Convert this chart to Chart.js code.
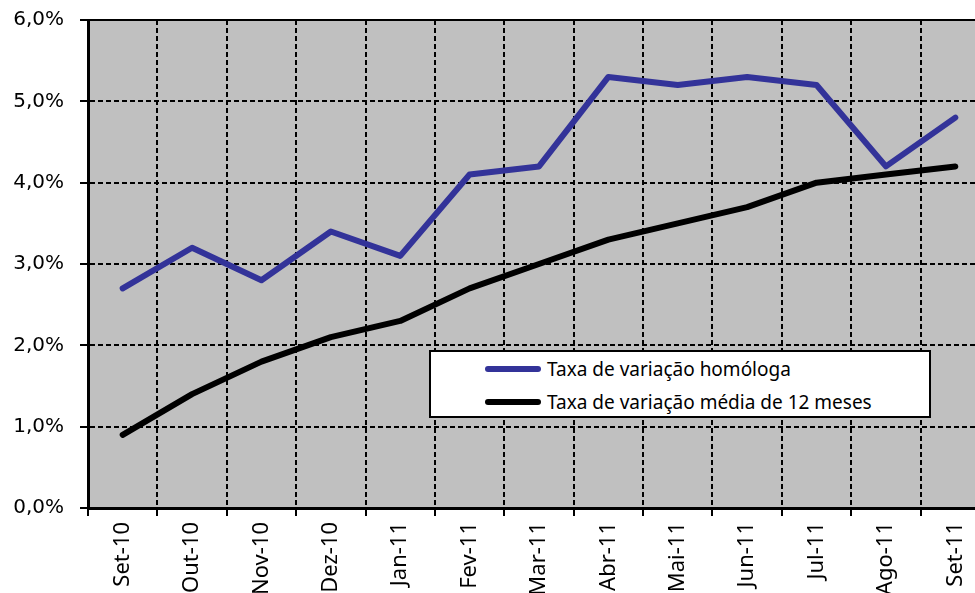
<!DOCTYPE html>
<html lang="pt">
<head>
<meta charset="UTF-8">
<title>Taxa de variação</title>
<script src="https://cdn.jsdelivr.net/npm/chart.js"></script>
<style>
  html, body { margin: 0; padding: 0; background: #fff; overflow: hidden; }
  #wrap { position: relative; width: 990px; height: 593px; }
  #legend {
    position: absolute; left: 429px; top: 350px; width: 498px; height: 64px;
    background: #fff; border: 2px solid #000;
    font-family: "Noto Sans", "DejaVu Sans", sans-serif; font-size: 19px; color: #000;
  }
  .item { position: absolute; left: 54px; display: flex; align-items: center; }
  .swatch { width: 56px; height: 6px; border-radius: 3px; margin-right: 6px; }
</style>
</head>
<body>
<div id="wrap">
  <canvas id="chart" width="990" height="593"></canvas>
  <div id="legend"></div>
</div>
<script>
const months = ['Set-10','Out-10','Nov-10','Dez-10','Jan-11','Fev-11','Mar-11','Abr-11','Mai-11','Jun-11','Jul-11','Ago-11','Set-11'];
const homologa = [2.7, 3.2, 2.8, 3.4, 3.1, 4.1, 4.2, 5.3, 5.2, 5.3, 5.2, 4.2, 4.8];
const media12 = [0.9, 1.4, 1.8, 2.1, 2.3, 2.7, 3.0, 3.3, 3.5, 3.7, 4.0, 4.1, 4.2];
const seriesNames = ['Taxa de variação homóloga', 'Taxa de variação média de 12 meses'];
const seriesColors = ['#333399', '#000000'];

// grey plot background + solid top border
const plotBg = {
  id: 'plotBg',
  beforeDraw(chart) {
    const a = chart.chartArea, ctx = chart.ctx;
    ctx.save();
    ctx.fillStyle = '#C0C0C0';
    ctx.fillRect(a.left, a.top, a.right - a.left, a.bottom - a.top);
    ctx.restore();
  },
  beforeDatasetsDraw(chart) {
    const a = chart.chartArea, ctx = chart.ctx;
    ctx.save();
    ctx.strokeStyle = '#000';
    ctx.lineWidth = 2;
    ctx.beginPath();
    ctx.moveTo(a.left, a.top);
    ctx.lineTo(a.right, a.top);
    ctx.stroke();
    ctx.restore();
  }
};

const ctx = document.getElementById('chart').getContext('2d');
new Chart(ctx, {
  type: 'line',
  data: {
    labels: months,
    datasets: [
      { label: seriesNames[0], data: homologa, borderColor: seriesColors[0], borderWidth: 6,
        pointRadius: 0, tension: 0, borderCapStyle: 'round', borderJoinStyle: 'round' },
      { label: seriesNames[1], data: media12, borderColor: seriesColors[1], borderWidth: 6,
        pointRadius: 0, tension: 0, borderCapStyle: 'round', borderJoinStyle: 'round' }
    ]
  },
  options: {
    responsive: false,
    animation: false,
    layout: { padding: { top: 20, right: 0, left: 0, bottom: 0 } },
    plugins: { legend: { display: false }, tooltip: { enabled: false } },
    scales: {
      x: {
        offset: true,
        grid: { offset: true, color: '#000', lineWidth: 2, tickLength: 8, tickBorderDash: [], tickColor: '#000', tickWidth: 2 },
        border: { display: true, color: '#000', width: 3, dash: [5, 3] },
        ticks: { color: '#000', minRotation: 90, maxRotation: 90, padding: 6,
                 font: { family: '"Noto Sans", sans-serif', size: 22 } },
        afterFit(scale) { scale.height = 85; scale.paddingLeft = 0; scale.paddingRight = 0; }
      },
      y: {
        min: 0, max: 6,
        grid: { color: '#000', lineWidth: 2, tickLength: 8, tickBorderDash: [], tickColor: '#000', tickWidth: 2 },
        border: { display: true, color: '#000', width: 3, dash: [5, 3] },
        ticks: { stepSize: 1, color: '#000', padding: 16,
                 font: { family: '"DejaVu Sans", sans-serif', size: 20 },
                 callback: v => v.toFixed(1).replace('.', ',') + '%' },
        afterFit(scale) { scale.width = 88; scale.paddingTop = 0; scale.paddingBottom = 0; }
      }
    }
  },
  plugins: [plotBg]
});

// legend box
const legend = document.getElementById('legend');
seriesNames.forEach((name, i) => {
  const it = document.createElement('div');
  it.className = 'item';
  it.style.top = (i === 0 ? 4 : 37) + 'px';
  it.innerHTML = '<span class="swatch" style="background:' + seriesColors[i] + '"></span><span>' + name + '</span>';
  legend.appendChild(it);
});
</script>
</body>
</html>
